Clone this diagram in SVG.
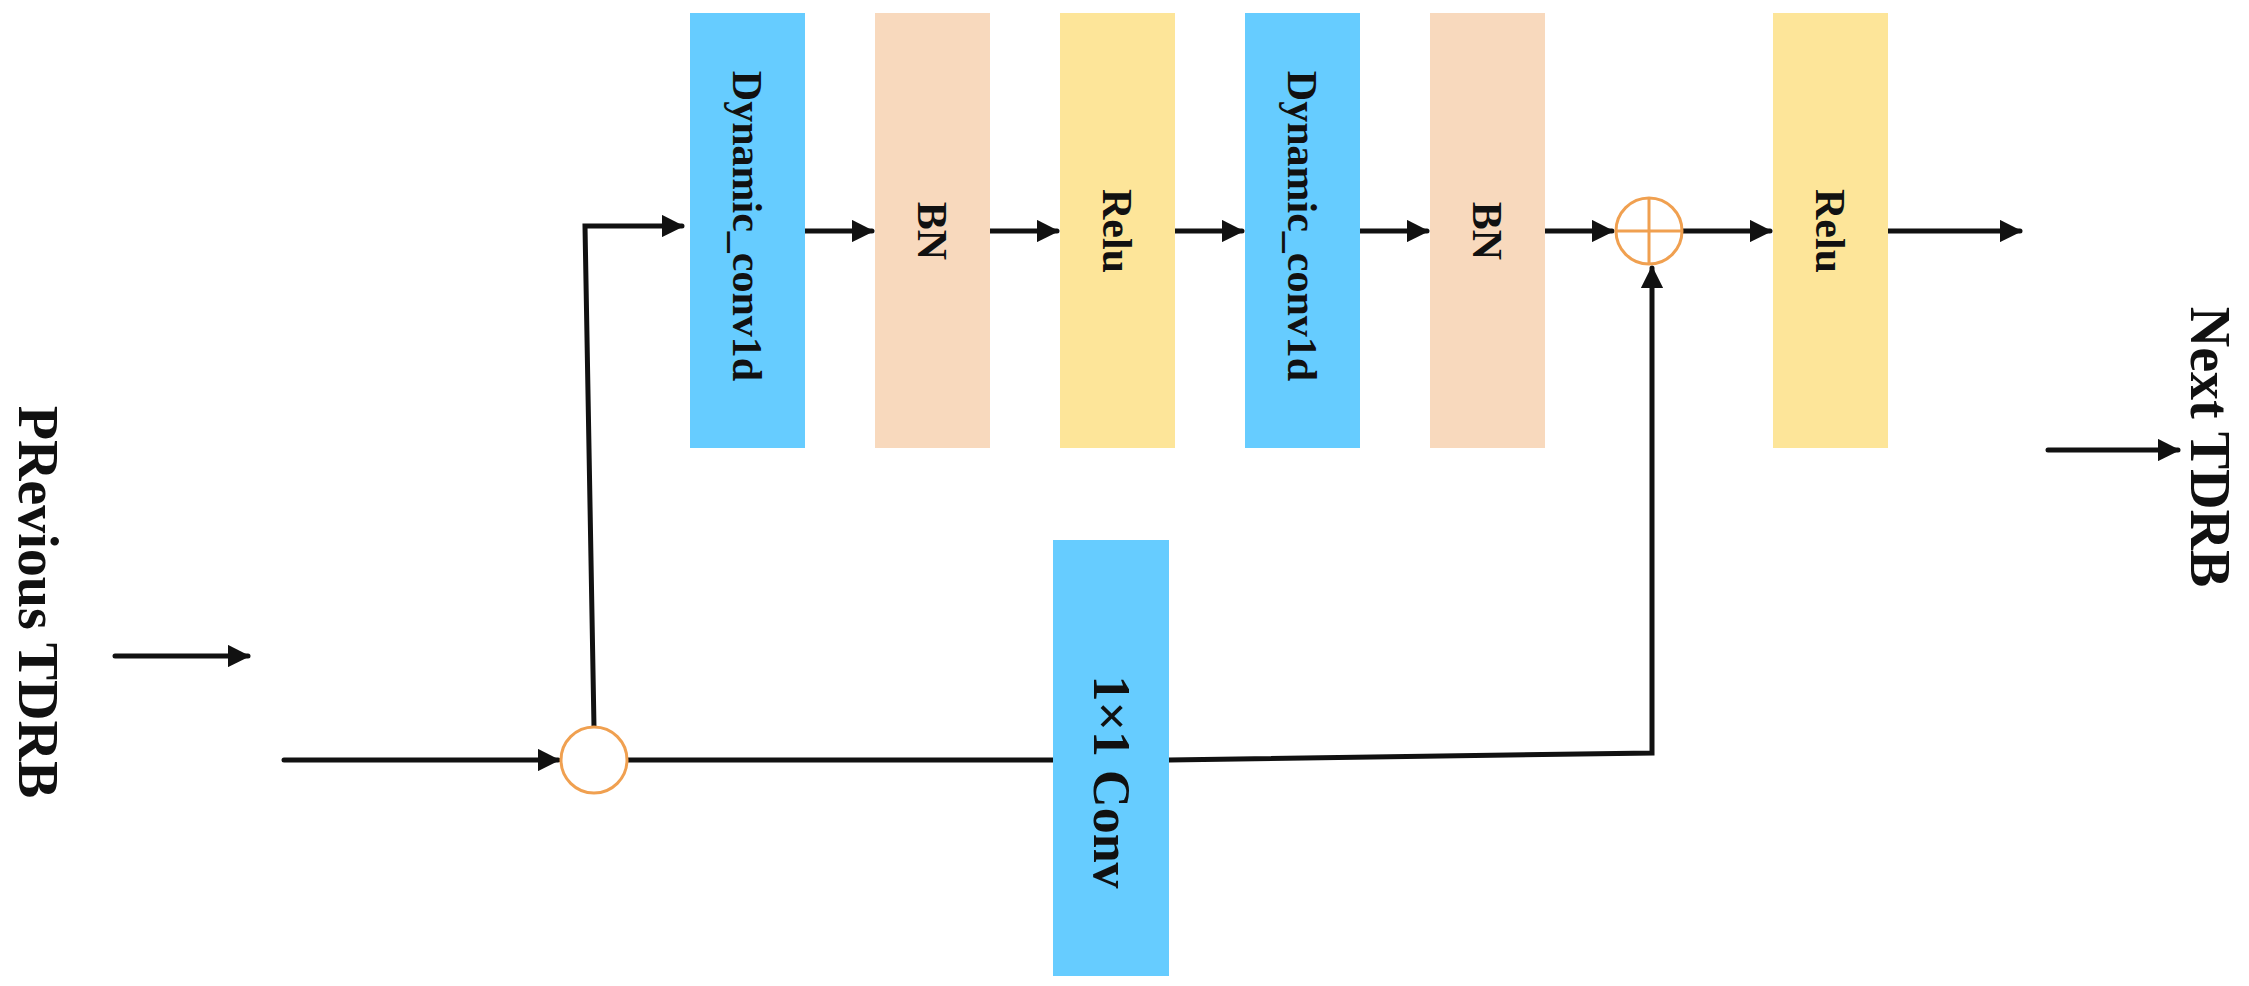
<svg xmlns="http://www.w3.org/2000/svg" width="2249" height="986" viewBox="0 0 2249 986">
<defs>
<marker id="ah" viewBox="0 0 10 10" refX="9" refY="5" markerWidth="4.5" markerHeight="4.5" orient="auto" markerUnits="strokeWidth"><path d="M0,0 L10,5 L0,10 z" fill="#111"/></marker>
<style>
.b{fill:#66CCFF}.p{fill:#F8D9BD}.y{fill:#FDE599}
.t{font-family:"Liberation Serif",serif;font-weight:bold;fill:#111;text-anchor:middle;dominant-baseline:central}
.c{fill:none;stroke:#111;stroke-width:5;stroke-linecap:round}
.a{marker-end:url(#ah)}
.o{fill:#fff;stroke:#F0A050;stroke-width:3}
</style>
</defs>
<rect width="2249" height="986" fill="#fff"/>
<g id="connectors">
<line class="c a" x1="284" y1="760" x2="558" y2="760"/>
<line class="c" x1="627" y1="760" x2="1055" y2="760"/>
<polyline class="c a" points="594,727 585,226 682,226"/>
<line class="c a" x1="805" y1="231" x2="872" y2="231"/>
<line class="c a" x1="990" y1="231" x2="1057" y2="231"/>
<line class="c a" x1="1175" y1="231" x2="1242" y2="231"/>
<line class="c a" x1="1360" y1="231" x2="1427" y2="231"/>
<line class="c a" x1="1545" y1="231" x2="1612" y2="231"/>
<line class="c a" x1="1682" y1="231" x2="1770" y2="231"/>
<line class="c a" x1="1888" y1="231" x2="2020" y2="231"/>
<polyline class="c a" points="1169,760 1652,753 1652,268"/>
<line class="c a" x1="115" y1="656" x2="248" y2="656"/>
<line class="c a" x1="2048" y1="450" x2="2178" y2="450"/>
</g>
<g id="split"><circle class="o" cx="594" cy="760" r="33"/></g>
<g id="add"><circle class="o" cx="1649" cy="231" r="33"/><path d="M1616,231 H1682 M1649,198 V264" stroke="#F0A050" stroke-width="3"/></g>
<g id="dc1"><rect class="b" x="690" y="13" width="115" height="435"/><text class="t" font-size="42" transform="translate(747,226) rotate(90)">Dynamic_conv1d</text></g>
<g id="bn1"><rect class="p" x="875" y="13" width="115" height="435"/><text class="t" font-size="42" transform="translate(932,231) rotate(90)">BN</text></g>
<g id="relu1"><rect class="y" x="1060" y="13" width="115" height="435"/><text class="t" font-size="42" transform="translate(1117,231) rotate(90)">Relu</text></g>
<g id="dc2"><rect class="b" x="1245" y="13" width="115" height="435"/><text class="t" font-size="42" transform="translate(1302,226) rotate(90)">Dynamic_conv1d</text></g>
<g id="bn2"><rect class="p" x="1430" y="13" width="115" height="435"/><text class="t" font-size="42" transform="translate(1487,231) rotate(90)">BN</text></g>
<g id="relu2"><rect class="y" x="1773" y="13" width="115" height="435"/><text class="t" font-size="42" transform="translate(1830,231) rotate(90)">Relu</text></g>
<g id="conv11"><rect class="b" x="1053" y="540" width="116" height="436"/><text class="t" font-size="52" transform="translate(1111,782) rotate(90)">1×1 Conv</text></g>
<g id="prev"><text class="t" font-size="56" transform="translate(38,602) rotate(90)">PRevious TDRB</text></g>
<g id="next"><text class="t" font-size="56" transform="translate(2210,447) rotate(90)">Next TDRB</text></g>
</svg>
